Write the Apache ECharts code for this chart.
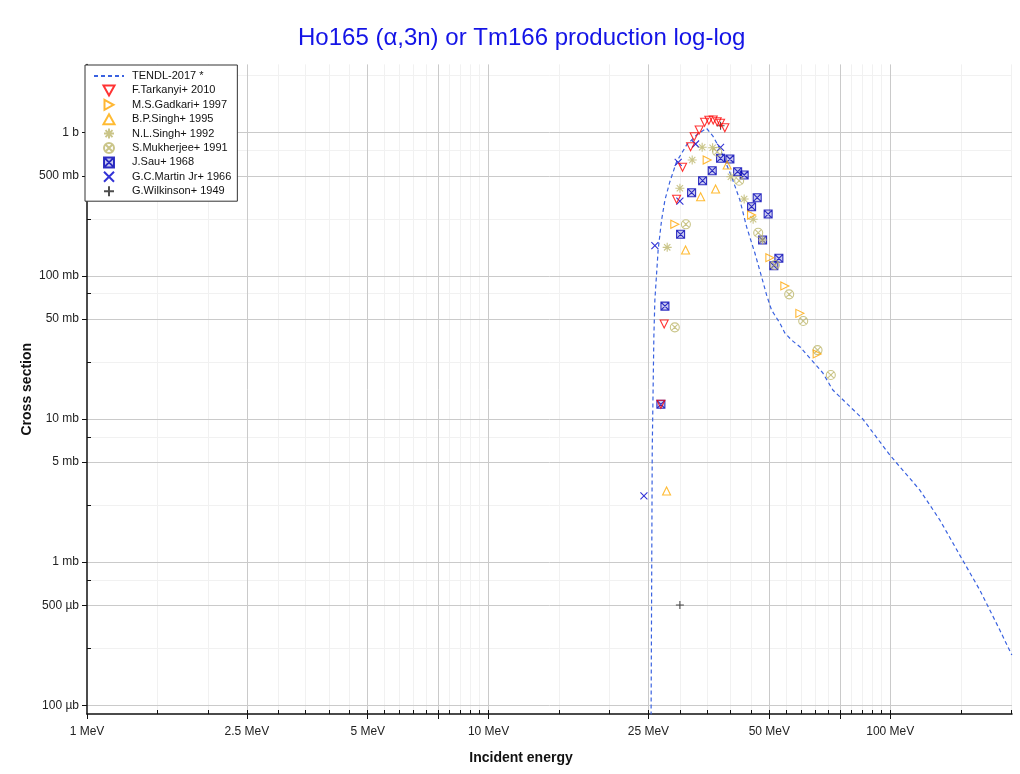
<!DOCTYPE html>
<html><head><meta charset="utf-8">
<script src="https://cdn.jsdelivr.net/npm/echarts@6/dist/echarts.min.js"></script>
<style>html,body{margin:0;padding:0;background:#fff}#c{width:1020px;height:774px}</style>
</head><body><div id="c"></div>
<script>
// ---- data (energy in MeV, cross section in mb) ----
const tendlE = [25.30, 25.55, 25.79, 25.94, 26.43, 26.96, 27.48, 28.27, 29.38, 31.11, 32.95, 34.89, 36.18, 37.80, 40.27, 42.23, 43.88, 46.02, 47.82, 49.30, 50.64, 53.11, 54.65, 56.80, 59.56, 63.70, 67.96, 71.96, 85.45, 99.77, 118.5, 132.9, 149.0, 167.1, 187.4, 200.8];
const tendlS = [0.01, 6.07, 37.6, 67.8, 151.6, 245.6, 338.8, 454.8, 627, 820, 964, 1073, 948, 756, 492.7, 338.8, 220.5, 144.4, 98.6, 72.3, 57.7, 46.8, 39.9, 35.6, 32.0, 25.8, 20.96, 15.94, 10.0, 5.60, 3.19, 1.97, 1.12, 0.639, 0.336, 0.2245];

const tarkanyi = [[26.85,12.67],[27.36,46.1],[29.38,342.6],[30.40,573.3],[31.83,798.5],[32.49,937.8],[33.44,1044],[34.49,1182],[35.35,1221],[36.24,1227],[37.08,1193],[37.80,1163],[38.74,1083]];
const gadkari = [[29.08,229.1],[35.01,644.6],[45.16,266.1],[50.15,133.9],[54.65,85.0],[59.56,54.7],[65.77,28.5]];
const bpSingh = [[27.74,3.14],[30.93,151.6],[33.72,357.3],[36.74,404.2],[39.26,594.7]];
const nlSingh = [[27.84,158.2],[29.94,408.8],[32.13,644.6],[34.02,790.7],[36.12,785.6],[40.11,492.7],[43.28,344.2],[45.57,248.4],[48.10,178.0]];
const mukherjee = [[29.08,43.7],[30.99,229.1],[37.08,736.8],[42.05,462.1],[46.91,200.1],[51.61,119.1],[56.03,74.3],[60.72,48.4],[65.92,30.3],[71.13,20.3]];
const sau = [[26.85,12.67],[27.48,61.5],[30.06,195.1],[32.02,381.0],[34.10,462.1],[36.04,542.6],[37.80,662.5],[39.88,655.1],[41.69,534.1],[43.28,506.4],[45.16,304.1],[46.64,351.5],[48.10,178.0],[49.66,270.4],[51.31,117.7],[52.81,132.6]];
const martin = [[24.36,2.91],[25.94,162.4],[29.94,333.3],[29.65,621],[32.76,834],[37.80,790.7]];
const wilkinson = [[29.94,0.502],[37.80,1119]];

// ---- axis ticks / labels ----
const xLabelValues = [1, 2.5, 5, 10, 25, 50, 100];
const xLabelTexts = ['1 MeV', '2.5 MeV', '5 MeV', '10 MeV', '25 MeV', '50 MeV', '100 MeV'];
const xMajorGrid = [2.5, 5, 7.5, 10, 25, 50, 75, 100];
const xMinorGrid = [1.5, 2, 3, 3.5, 4, 4.5, 5.5, 6, 6.5, 7, 8, 8.5, 9, 9.5, 15, 20, 30, 35, 40, 45, 55, 60, 65, 70, 80, 85, 90, 95, 150, 200];
const yLabelValues = [0.1, 0.5, 1, 5, 10, 50, 100, 500, 1000];
const yLabelTexts = ['100 µb', '500 µb', '1 mb', '5 mb', '10 mb', '50 mb', '100 mb', '500 mb', '1 b'];
const yMinorGrid = [0.25, 0.75, 2.5, 7.5, 25, 75, 250, 750, 2500];

const FONT = '"Liberation Sans", Arial, Helvetica, sans-serif';
function nearestText(v, vals, texts) {
  let best = 0, bd = Infinity;
  for (let i = 0; i < vals.length; i++) {
    const d = Math.abs(Math.log10(v) - Math.log10(vals[i]));
    if (d < bd) { bd = d; best = i; }
  }
  return texts[best];
}

const SYM = {
  down: 'path://M0,0L10,0L5,9Z',
  right: 'path://M0,0L9,5L0,10Z',
  up: 'path://M5,0L10,9L0,9Z',
  star: 'path://M5,0L5,10M0,5L10,5M1.5,1.5L8.5,8.5M8.5,1.5L1.5,8.5',
  circx: 'path://M10,5A5,5,0,1,1,0,5A5,5,0,1,1,10,5ZM1.5,1.5L8.5,8.5M8.5,1.5L1.5,8.5',
  boxx: 'path://M0,0L10,0L10,10L0,10ZM0,0L10,10M10,0L0,10',
  x: 'path://M0,0L10,10M10,0L0,10',
  plus: 'path://M5,0L5,10M0,5L10,5'
};

function scat(name, data, sym, color, size, z, fill) {
  return {
    name: name, type: 'scatter', data: data, symbol: sym, symbolSize: size, z: z,
    itemStyle: { color: fill || 'rgba(0,0,0,0)', borderColor: color, borderWidth: 1.1 },
    emphasis: { disabled: true }, animation: false
  };
}

const chart = echarts.init(document.getElementById('c'), null, { renderer: 'canvas' });
const logX = { type: 'log', logBase: 10, min: 1, max: 201 };
const logY = { type: 'log', logBase: 10, min: 0.087, max: 3000 };

chart.setOption({
  backgroundColor: '#fff',
  animation: false,
  textStyle: { fontFamily: FONT },
  title: {
    text: 'Ho165 (α,3n) or Tm166 production log-log',
    left: 293, top: 21,
    textStyle: { color: '#1414e6', fontSize: 24, fontWeight: 'normal', fontFamily: FONT }
  },
  grid: { left: 87, right: 8, top: 64.4, bottom: 60, containLabel: false },
  legend: {
    orient: 'vertical', left: 85, top: 65, z: 50,
    itemWidth: 30, itemHeight: 10, itemGap: 2.4,
    padding: [5, 6, 4, 8],
    backgroundColor: '#fff', borderColor: '#333', borderWidth: 1,
    textStyle: { fontSize: 11, color: '#111', fontFamily: FONT, lineHeight: 12, padding: [0, 0, 0, 3] },
    data: [{ name: 'TENDL-2017 *', itemStyle: { opacity: 0 } }, 'F.Tarkanyi+ 2010', 'M.S.Gadkari+ 1997', 'B.P.Singh+ 1995', 'N.L.Singh+ 1992', 'S.Mukherjee+ 1991', 'J.Sau+ 1968', 'G.C.Martin Jr+ 1966', 'G.Wilkinson+ 1949']
  },
  xAxis: [
    Object.assign({}, logX, {
      position: 'bottom',
      axisLine: { show: true, onZero: false, lineStyle: { color: '#111', width: 1.5 } },
      axisTick: { show: true, customValues: [1].concat(xMajorGrid), length: 5, lineStyle: { color: '#111', width: 1 } },
      axisLabel: { show: true, customValues: xLabelValues, formatter: v => nearestText(v, xLabelValues, xLabelTexts), color: '#222', fontSize: 12, margin: 12, fontFamily: FONT },
      splitLine: { show: false },
      name: 'Incident energy', nameLocation: 'middle', nameGap: 37, nameMoveOverlap: false,
      nameTextStyle: { fontWeight: 'bold', fontSize: 14, color: '#111', fontFamily: FONT, padding: [0, 57, 0, 0] }
    }),
    Object.assign({}, logX, {
      position: 'bottom',
      axisLine: { show: false },
      axisTick: { show: true, inside: true, customValues: xMajorGrid.concat(xMinorGrid), length: 4, lineStyle: { color: '#111', width: 1 } },
      axisLabel: { show: false },
      splitLine: { show: false }
    })
  ],
  yAxis: [
    Object.assign({}, logY, {
      position: 'left',
      axisLine: { show: true, onZero: false, lineStyle: { color: '#111', width: 1.5 } },
      axisTick: { show: true, customValues: yLabelValues, length: 5, lineStyle: { color: '#111', width: 1 } },
      axisLabel: { show: true, customValues: yLabelValues, formatter: v => nearestText(v, yLabelValues, yLabelTexts), color: '#222', fontSize: 12, margin: 8, fontFamily: FONT },
      splitLine: { show: false },
      name: 'Cross section', nameLocation: 'middle', nameGap: 53, nameRotate: 90, nameMoveOverlap: false,
      nameTextStyle: { fontWeight: 'bold', fontSize: 14, color: '#111', fontFamily: FONT }
    }),
    Object.assign({}, logY, {
      position: 'left',
      axisLine: { show: false },
      axisTick: { show: true, inside: true, customValues: yMinorGrid, length: 4, lineStyle: { color: '#111', width: 1 } },
      axisLabel: { show: false },
      splitLine: { show: false }
    })
  ],
  series: [
    {
      name: 'minor-grid', type: 'line', data: [], silent: true, z: 0,
      markLine: {
        silent: true, z: 0, symbol: ['none', 'none'], label: { show: false }, animation: false,
        emphasis: { disabled: true },
        lineStyle: { color: '#f1f1f1', width: 1, type: 'solid' },
        data: xMinorGrid.map(v => ({ xAxis: v })).concat(yMinorGrid.map(v => ({ yAxis: v })))
      }
    },
    {
      name: 'major-grid', type: 'line', data: [], silent: true, z: 0,
      markLine: {
        silent: true, z: 0, symbol: ['none', 'none'], label: { show: false }, animation: false,
        emphasis: { disabled: true },
        lineStyle: { color: '#cacaca', width: 1, type: 'solid' },
        data: xMajorGrid.map(v => ({ xAxis: v })).concat(yLabelValues.map(v => ({ yAxis: v })))
      }
    },
    {
      name: 'TENDL-2017 *', type: 'line', z: 2,
      data: tendlE.map((e, i) => [e, tendlS[i]]),
      symbol: 'none', showSymbol: false, smooth: false,
      lineStyle: { color: '#3a62e0', width: 1.2, type: [4, 3] },
      itemStyle: { color: '#3a62e0' },
      emphasis: { disabled: true }, animation: false
    },
    scat('G.Wilkinson+ 1949', wilkinson, SYM.plus, '#222222', 8, 3),
    scat('G.C.Martin Jr+ 1966', martin, SYM.x, '#0000cc', 7, 3),
    scat('J.Sau+ 1968', sau, SYM.boxx, '#0000b4', 8, 3, 'rgba(0,0,180,0.25)'),
    scat('S.Mukherjee+ 1991', mukherjee, SYM.circx, '#bdb76b', 9, 4),
    scat('N.L.Singh+ 1992', nlSingh, SYM.star, '#bdb76b', 9, 4),
    scat('B.P.Singh+ 1995', bpSingh, SYM.up, '#ffaa00', 8, 5),
    scat('M.S.Gadkari+ 1997', gadkari, SYM.right, '#ffa500', 8, 5),
    scat('F.Tarkanyi+ 2010', tarkanyi, SYM.down, '#ff0000', 8, 6)
  ]
});
</script>
</body></html>
